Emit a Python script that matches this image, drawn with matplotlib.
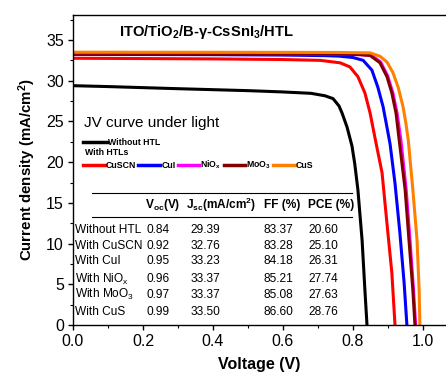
import matplotlib
matplotlib.use("Agg")
import matplotlib.pyplot as plt
from matplotlib.lines import Line2D
from matplotlib.ticker import MultipleLocator

plt.rcParams['font.family'] = ['Liberation Sans', 'DejaVu Sans']
plt.rcParams['mathtext.default'] = 'regular'

# ---- data ----
v_none = [0.0, 0.1, 0.2, 0.3, 0.4, 0.5, 0.6, 0.68, 0.72, 0.743, 0.76, 0.769, 0.783, 0.797, 0.805, 0.814, 0.826, 0.834, 0.84]
j_none = [29.39, 29.28, 29.15, 29.02, 28.9, 28.78, 28.62, 28.45, 28.15, 27.8, 26.9, 26.0, 24.3, 22.0, 19.8, 16.6, 10.4, 4.3, 0.0]

v_cuscn = [0.0, 0.2, 0.4, 0.6, 0.706, 0.763, 0.791, 0.814, 0.834, 0.849, 0.86, 0.866, 0.883, 0.897, 0.911, 0.92]
j_cuscn = [32.76, 32.72, 32.68, 32.6, 32.5, 32.2, 31.7, 30.5, 28.5, 26.0, 23.6, 22.3, 18.7, 12.5, 6.4, 0.0]

v_cui = [0.0, 0.4, 0.6, 0.72, 0.76, 0.8, 0.829, 0.854, 0.871, 0.886, 0.897, 0.906, 0.92, 0.934, 0.946, 0.954]
j_cui = [33.23, 33.2, 33.15, 33.08, 33.02, 32.85, 32.5, 31.3, 29.2, 26.8, 24.3, 22.2, 17.4, 11.3, 5.2, 0.0]

v_niox = [0.0, 0.4, 0.6, 0.75, 0.82, 0.853, 0.879, 0.899, 0.914, 0.926, 0.937, 0.952, 0.963, 0.973, 0.979]
j_niox = [33.37, 33.35, 33.32, 33.28, 33.2, 33.1, 32.3, 30.6, 28.5, 26.0, 22.7, 16.6, 10.4, 4.3, 0.0]

v_moo3 = [0.0, 0.4, 0.6, 0.75, 0.82, 0.849, 0.877, 0.897, 0.911, 0.923, 0.932, 0.949, 0.96, 0.971, 0.977]
j_moo3 = [33.37, 33.35, 33.32, 33.28, 33.2, 33.1, 32.2, 30.5, 28.5, 26.0, 22.7, 16.6, 10.4, 4.3, 0.0]

v_cus = [0.0, 0.4, 0.6, 0.75, 0.849, 0.877, 0.897, 0.914, 0.929, 0.943, 0.951, 0.958, 0.971, 0.983, 0.989, 0.991]
j_cus = [33.5, 33.49, 33.48, 33.47, 33.42, 33.0, 32.3, 31.0, 29.2, 26.8, 24.8, 22.7, 16.6, 10.4, 4.3, 0.0]

series_labels = ['CuSCN', 'CuI', r'NiO$_x$', r'MoO$_3$', 'CuS']
series_colors = ['#ff0000', '#0000ff', '#ff00ff', '#800000', '#ff8000']

table_cols = [r'V$_{oc}$(V)', r'J$_{sc}$(mA/cm$^2$)', 'FF (%)', 'PCE (%)']
table_rows = ['Without HTL', 'With CuSCN', 'With CuI', r'With NiO$_x$', r'With MoO$_3$', 'With CuS']
voc = ['0.84', '0.92', '0.95', '0.96', '0.97', '0.99']
jsc = ['29.39', '32.76', '33.23', '33.37', '33.37', '33.50']
ff = ['83.37', '83.28', '84.18', '85.21', '85.08', '86.60']
pce = ['20.60', '25.10', '26.31', '27.74', '27.63', '28.76']

# ---- figure ----
fig = plt.figure(figsize=(4.46, 3.77), dpi=100)
ax = fig.add_axes([73/446, 1-325/377, 1-73/446, (325-15)/377])

lw = 2.2
ax.plot(v_none, j_none, color='black', lw=lw, solid_joinstyle='round')
ax.plot(v_cuscn, j_cuscn, color=series_colors[0], lw=lw, solid_joinstyle='round')
ax.plot(v_cui, j_cui, color=series_colors[1], lw=lw, solid_joinstyle='round')
ax.plot(v_niox, j_niox, color=series_colors[2], lw=lw, solid_joinstyle='round')
ax.plot(v_moo3, j_moo3, color=series_colors[3], lw=lw, solid_joinstyle='round')
ax.plot(v_cus, j_cus, color=series_colors[4], lw=lw, solid_joinstyle='round')

ax.set_xlim(0, 373/350)
ax.set_ylim(0, 310/(285/35))
ax.spines['right'].set_visible(False)
for s in ['left', 'bottom', 'top']:
    ax.spines[s].set_linewidth(1.0)

ax.xaxis.set_major_locator(MultipleLocator(0.2))
ax.xaxis.set_minor_locator(MultipleLocator(0.1))
ax.yaxis.set_major_locator(MultipleLocator(5))
ax.yaxis.set_minor_locator(MultipleLocator(2.5))
ax.tick_params(which='major', direction='out', length=3.5, width=1.0, labelsize=11.5, pad=3)
ax.tick_params(which='minor', direction='out', length=2.5, width=0.8)
ax.tick_params(top=False, right=False, which='both')
ax.xaxis.set_major_formatter(matplotlib.ticker.FormatStrFormatter('%.1f'))

ax.set_xlabel('Voltage (V)', fontsize=11.5, fontweight='bold', labelpad=6)
ax.set_ylabel('Current density (mA/cm$^2$)', fontsize=10.8, fontweight='bold', labelpad=6)

tr = ax.transAxes
ax.text(0.357, 0.945, r'ITO/TiO$_2$/B-γ-CsSnI$_3$/HTL', transform=tr,
        ha='center', va='center', fontsize=10.6, fontweight='bold')
ax.text(0.029, 0.652, 'JV curve under light', transform=tr, ha='left', va='center', fontsize=11)

leg_fs = 6.3
leg1 = ax.legend([Line2D([], [], color='black', lw=2.5)], ['Without HTL'],
                 loc='center left', bbox_to_anchor=(0.027, 0.590), frameon=False,
                 borderpad=0, borderaxespad=0, handlelength=2.7, handletextpad=0.1,
                 prop={'size': leg_fs, 'weight': 'bold'})
ax.add_artist(leg1)
ax.text(0.032, 0.555, 'With HTLs', transform=tr, ha='left', va='center',
        fontsize=leg_fs, fontweight='bold')
handles = [Line2D([], [], color=c, lw=2.5) for c in series_colors]
ax.legend(handles, series_labels, loc='center left', bbox_to_anchor=(0.027, 0.516),
          ncol=5, frameon=False, borderpad=0, borderaxespad=0, handlelength=2.5,
          handletextpad=0.1, columnspacing=0.25, prop={'size': leg_fs, 'weight': 'bold'})

# ---- table ----
tfs = 8.6
ax.plot([0.051, 0.748], [0.426, 0.426], color='black', lw=0.8, transform=tr)
ax.plot([0.051, 0.748], [0.348, 0.348], color='black', lw=0.8, transform=tr)
col_x = [0.193, 0.303, 0.512, 0.630]
for x, t in zip(col_x, table_cols):
    ax.text(x, 0.387, t, transform=tr, ha='left', va='center', fontsize=tfs, fontweight='bold')
row_y = [0.306, 0.255, 0.206, 0.148, 0.097, 0.042]
val_x = [0.198, 0.314, 0.512, 0.630]
for i, y in enumerate(row_y):
    ax.text(0.005, y, table_rows[i], transform=tr, ha='left', va='center', fontsize=tfs)
    for x, col in zip(val_x, [voc, jsc, ff, pce]):
        ax.text(x, y, col[i], transform=tr, ha='left', va='center', fontsize=tfs)

fig.savefig('out.png', dpi=100)
